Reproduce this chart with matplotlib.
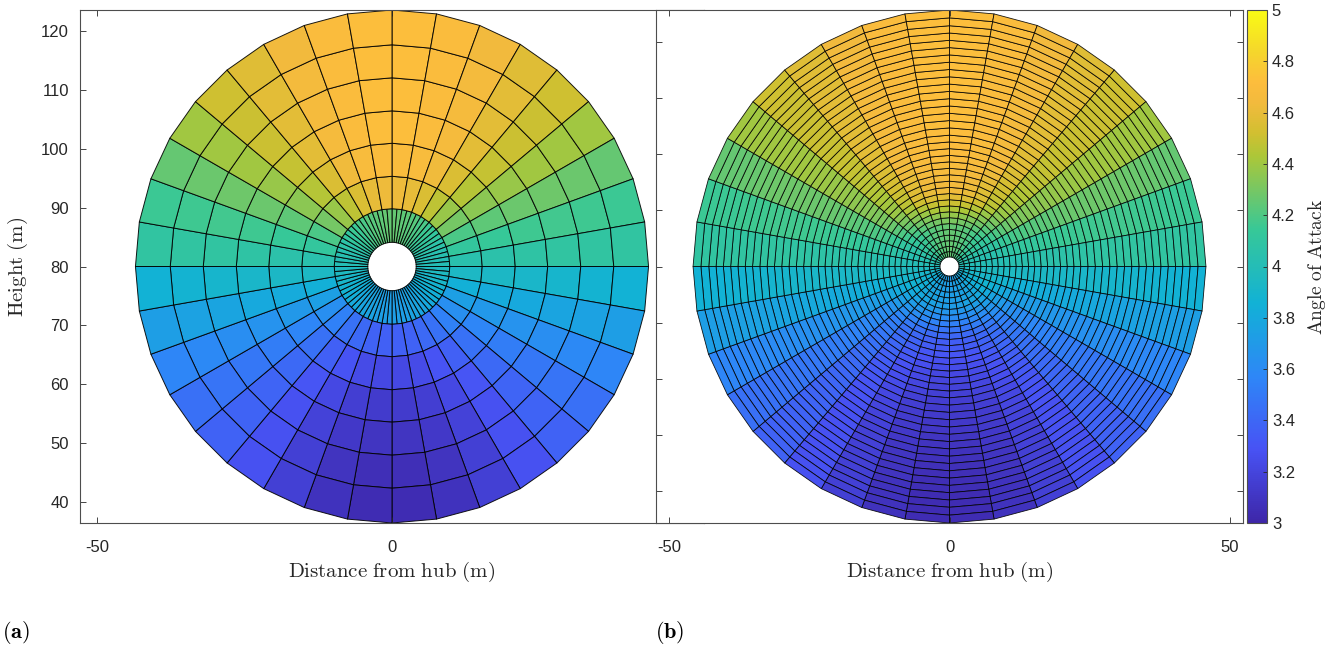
import numpy as np
import matplotlib
matplotlib.use("Agg")
import matplotlib.pyplot as plt
from matplotlib.collections import PolyCollection
from matplotlib.colors import LinearSegmentedColormap, Normalize

plt.rcParams['mathtext.fontset'] = 'cm'
plt.rcParams['font.family'] = ['Liberation Sans', 'DejaVu Sans']
plt.rcParams['axes.unicode_minus'] = False

# MATLAB parula, approximated by anchor colours (position, rgb)
parula_pos = [0.0, 1 / 7, 2 / 7, 3 / 7, 4 / 7, 5 / 7, 0.76, 0.82, 0.86, 0.92, 1.0]
parula_rgb = [
    (0.2422, 0.1504, 0.6603),
    (0.2810, 0.3228, 0.9579),
    (0.1786, 0.5289, 0.9682),
    (0.0689, 0.6948, 0.8394),
    (0.2161, 0.7843, 0.5923),
    (0.6720, 0.7793, 0.2227),
    (0.8200, 0.7500, 0.1900),
    (0.9500, 0.7300, 0.2400),
    (0.9900, 0.7400, 0.2400),
    (0.9600, 0.8400, 0.1700),
    (0.9769, 0.9839, 0.0805),
]
parula = LinearSegmentedColormap.from_list('parula', list(zip(parula_pos, parula_rgb)), N=256)

hub_height = 80.0

# (a) coarse mesh: ring edges (m) and angle of attack per ring (hub -> tip),
# 18 sectors of 10 deg from top (0 deg) to bottom (180 deg), mirrored left/right
ring_edges_a = [4.1, 9.8, 15.3, 20.9, 26.4, 32.0, 37.6, 43.5]
sectors_a = [72, 36, 36, 36, 36, 36, 36]
aoa_a = [
    [4.25, 4.24, 4.22, 4.19, 4.15, 4.11, 4.07, 4.03, 4.00, 3.96, 3.92, 3.88, 3.84, 3.80, 3.77, 3.75, 3.73, 3.72],
    [4.62, 4.60, 4.55, 4.47, 4.38, 4.29, 4.19, 4.11, 4.04, 3.94, 3.85, 3.74, 3.63, 3.54, 3.46, 3.41, 3.37, 3.36],
    [4.70, 4.68, 4.63, 4.55, 4.45, 4.35, 4.24, 4.14, 4.06, 3.93, 3.82, 3.69, 3.57, 3.46, 3.36, 3.29, 3.24, 3.22],
    [4.72, 4.70, 4.66, 4.58, 4.49, 4.38, 4.27, 4.16, 4.08, 3.92, 3.80, 3.65, 3.52, 3.41, 3.30, 3.22, 3.16, 3.14],
    [4.72, 4.70, 4.66, 4.58, 4.50, 4.40, 4.28, 4.17, 4.10, 3.90, 3.77, 3.62, 3.49, 3.39, 3.28, 3.18, 3.12, 3.10],
    [4.72, 4.70, 4.65, 4.58, 4.50, 4.40, 4.27, 4.16, 4.10, 3.88, 3.75, 3.59, 3.47, 3.38, 3.28, 3.17, 3.09, 3.06],
    [4.72, 4.70, 4.64, 4.57, 4.51, 4.40, 4.25, 4.15, 4.10, 3.86, 3.73, 3.57, 3.45, 3.37, 3.28, 3.17, 3.08, 3.04],
]

# (b) fine mesh: ring edges (m), 36 sectors everywhere
ring_edges_b = [1.7, 2.65, 3.6, 4.6, 5.6, 6.6, 7.65, 8.7, 9.75, 10.8, 11.9, 13.0, 14.1,
                15.2, 16.35, 17.5, 18.65, 19.8, 21.0, 22.2, 23.4, 24.7, 26.0, 27.3, 28.6,
                29.9, 31.2, 32.5, 33.8, 35.1, 36.4, 37.7, 39.0, 40.3, 41.6, 42.9, 44.3, 45.7]

cbar_ticks = [3, 3.2, 3.4, 3.6, 3.8, 4, 4.2, 4.4, 4.6, 4.8, 5]
cbar_ticklabels = ['3', '3.2', '3.4', '3.6', '3.8', '4', '4.2', '4.4', '4.6', '4.8', '5']
y_ticks = [40, 50, 60, 70, 80, 90, 100, 110, 120]
x_ticks_a = [-50, 0]
x_ticks_b = [-50, 0, 50]


def sector_value(profile, theta_mid):
    """Pick the 10-degree sector value for a cell centred at theta_mid (deg, from top)."""
    ang = theta_mid % 360.0
    if ang > 180.0:
        ang = 360.0 - ang
    return profile[min(int(ang // 10), 17)]


def ring_cells(r0, r1, n, profile):
    th = np.radians(np.linspace(0, 360, n + 1))
    verts, vals = [], []
    for k in range(n):
        a0, a1 = th[k], th[k + 1]
        verts.append([
            (r0 * np.sin(a0), hub_height + r0 * np.cos(a0)),
            (r0 * np.sin(a1), hub_height + r0 * np.cos(a1)),
            (r1 * np.sin(a1), hub_height + r1 * np.cos(a1)),
            (r1 * np.sin(a0), hub_height + r1 * np.cos(a0)),
        ])
        vals.append(sector_value(profile, np.degrees((a0 + a1) / 2)))
    return verts, vals


norm = Normalize(vmin=3, vmax=5)

# --- mesh (a)
verts_a, vals_a = [], []
for i in range(len(aoa_a)):
    v, c = ring_cells(ring_edges_a[i], ring_edges_a[i + 1], sectors_a[i], aoa_a[i])
    verts_a += v
    vals_a += c

# --- mesh (b): same field sampled on the finer radial grid
R_a = ring_edges_a[-1]
R_b = ring_edges_b[-1]
mid_a = [(ring_edges_a[i] + ring_edges_a[i + 1]) / 2 / R_a for i in range(len(aoa_a))]
table_a = np.array(aoa_a)
verts_b, vals_b = [], []
for i in range(len(ring_edges_b) - 1):
    rm = (ring_edges_b[i] + ring_edges_b[i + 1]) / 2 / R_b
    prof = [np.interp(rm, mid_a, table_a[:, s]) for s in range(18)]
    v, c = ring_cells(ring_edges_b[i], ring_edges_b[i + 1], 36, prof)
    verts_b += v
    vals_b += c

W, H = 1335, 648
fig = plt.figure(figsize=(W / 100, H / 100), dpi=100)

ax_a = fig.add_axes([80 / W, (H - 523) / H, 624 / W, 513 / H])
ax_b = fig.add_axes([656 / W, (H - 523) / H, 587 / W, 513 / H])
cax = fig.add_axes([1247 / W, (H - 523) / H, 20 / W, 513 / H])

pc_a = PolyCollection(verts_a, array=np.array(vals_a), cmap=parula, norm=norm,
                      edgecolors=(0, 0, 0, 0.9), linewidths=0.7)
ax_a.add_collection(pc_a)
pc_b = PolyCollection(verts_b, array=np.array(vals_b), cmap=parula, norm=norm,
                      edgecolors=(0, 0, 0, 0.9), linewidths=0.6)
ax_b.add_collection(pc_b)

ax_a.set_xlim(-52.9, 52.9)
ax_a.set_ylim(hub_height - R_a, hub_height + R_a)
ax_b.set_xlim(-52.3, 52.3)
ax_b.set_ylim(hub_height - R_b, hub_height + R_b)

xlabel = r'$\mathrm{Distance\ from\ hub\ (m)}$'
for ax, xt in ((ax_a, x_ticks_a), (ax_b, x_ticks_b)):
    ax.set_facecolor('white')
    ax.set_xticks(xt)
    ax.set_yticks(y_ticks)
    ax.tick_params(direction='in', length=4, width=0.6, top=True, right=True,
                   labelsize=12, colors='#262626', pad=8)
    ax.tick_params(axis='x', pad=12)
    for sp in ax.spines.values():
        sp.set_color('#4d4d4d')
        sp.set_linewidth(0.8)
    ax.set_xlabel(xlabel, fontsize=15, color='#262626', labelpad=4)

ax_b.set_yticklabels([])
ax_a.set_ylabel(r'$\mathrm{Height\ (m)}$', fontsize=15, color='#262626', labelpad=8)

cb = fig.colorbar(pc_b, cax=cax, ticks=cbar_ticks)
cb.ax.set_yticklabels(cbar_ticklabels)
cb.ax.tick_params(direction='in', length=3, width=0.6, labelsize=12, colors='#262626')
cb.outline.set_edgecolor('#4d4d4d')
cb.outline.set_linewidth(0.8)
cb.set_label(r'$\mathrm{Angle\ of\ Attack}$', fontsize=14, color='#262626', labelpad=8)

fig.text(2 / W, 1 - 632 / H, r'$\mathbf{(a)}$', fontsize=16, va='center', ha='left')
fig.text(655 / W, 1 - 632 / H, r'$\mathbf{(b)}$', fontsize=16, va='center', ha='left')

fig.savefig('out.png', dpi=100)
